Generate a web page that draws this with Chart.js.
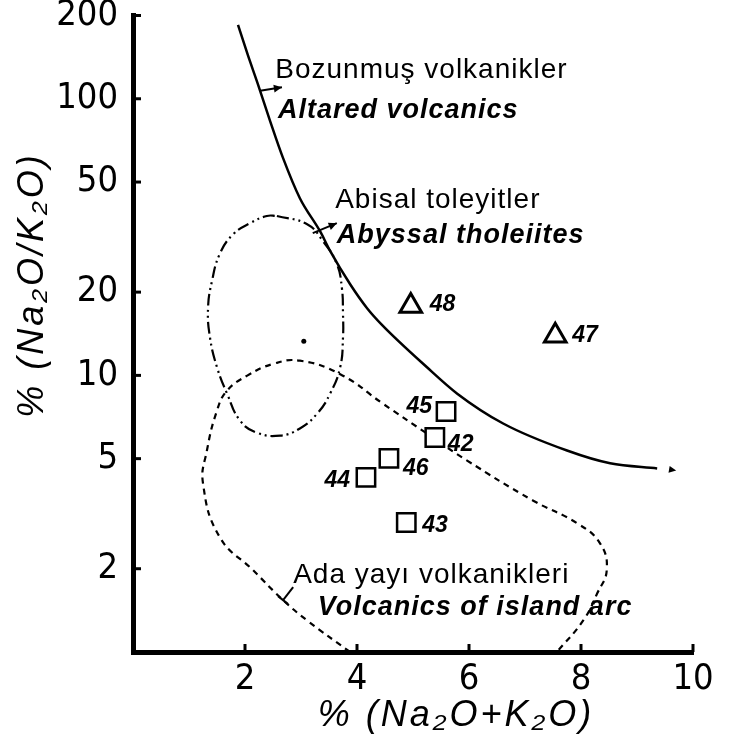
<!DOCTYPE html>
<html><head><meta charset="utf-8">
<script src="https://cdn.jsdelivr.net/npm/chart.js@4.4.1/dist/chart.umd.min.js"></script>
<style>html,body{margin:0;padding:0;background:#fff;}#wrap{width:731px;height:743px;}</style>
</head><body><div id="wrap"><canvas id="c" width="731" height="743"></canvas></div>
<script>
// ---- data ----
const xTicks = [2, 4, 6, 8, 10];
const yTicks = [2, 5, 10, 20, 50, 100, 200];

const squareIds = ['42', '43', '44', '45', '46'];
const squareX   = [5.39, 4.88, 4.16, 5.59, 4.57];
const squareY   = [5.96, 2.94, 4.28, 7.40, 5.01];

const triangleIds = ['47', '48'];
const triangleX   = [7.54, 4.96];
const triangleY   = [13.9, 17.8];

// boundary of altered volcanics (solid line)
const alteredX = [1.875, 2.05, 2.23, 2.45, 2.68, 2.98, 3.34, 3.52, 3.875, 4.18, 4.45, 5.25, 5.79, 6.61, 7.75, 8.52, 9.36];
const alteredY = [185, 144, 113, 82.9, 61.0, 43.7, 33.2, 28.2, 21.4, 17.5, 15.2, 10.7, 8.59, 6.70, 5.35, 4.81, 4.61];

// abyssal tholeiite field (dash-dot closed curve)
const abyssalX = [2.57, 3.11, 3.39, 3.64, 3.73, 3.75, 3.75, 3.70, 3.52, 3.29, 2.98, 2.63, 2.21, 1.91, 1.68, 1.50, 1.375, 1.34, 1.41, 1.55, 1.79, 2.09, 2.39, 2.57];
const abyssalY = [37.7, 35.2, 30.6, 25.3, 20.7, 16.7, 13.7, 10.7, 8.59, 7.28, 6.43, 6.06, 6.21, 6.87, 8.59, 10.7, 13.7, 17.5, 21.9, 27.5, 32.4, 35.5, 37.7, 37.7];

// island arc volcanics field (dashed, open at the x axis)
const arcX = [3.875, 3.11, 2.68, 2.14, 1.55, 1.25, 1.32, 1.50, 1.68, 2.04, 2.50, 2.98, 3.70, 4.46, 5.25, 5.96, 7.14, 7.93, 8.34, 8.46, 8.29, 8.04, 7.57];
const arcY = [1.0, 1.30, 1.54, 1.98, 2.60, 4.07, 5.35, 7.46, 8.81, 9.98, 11.0, 11.3, 10.1, 7.91, 6.16, 4.93, 3.53, 2.92, 2.47, 1.98, 1.63, 1.30, 1.0];

const centreDotX = [3.05];
const centreDotY = [13.3];

// field names: text, x, y (anchor in data units)
const fieldLabels = [
  ['Bozunmuş volkanikler', 2.54, 118.5, 'normal'],
  ['Altared volcanics', 2.59, 85.0, 'italic'],
  ['Abisal toleyitler', 3.61, 40.2, 'normal'],
  ['Abyssal tholeiites', 3.64, 30.1, 'italic'],
  ['Ada yayı volkanikleri', 2.86, 1.77, 'normal'],
  ['Volcanics of island arc', 3.30, 1.36, 'italic']
];
// leader arrows: x0, y0, x1, y1
const arrows = [
  [2.27, 107, 2.66, 110],
  [3.21, 32.7, 3.64, 35.5]
];
const curveEndArrowX = [9.50, 9.70];
const curveEndArrowY = [4.60, 4.53];
const leaderX = [2.86, 2.68];
const leaderY = [1.716, 1.54];

const xTitle = '% (Na₂O+K₂O)';
const yTitle = '% (Na₂O/K₂O)';

// ---- layout of sample labels (pixel offsets from marker) ----
const labelOffsets = {
  '42': [13, 13, 'left'], '43': [16, 10, 'left'], '44': [-16, 10, 'right'],
  '45': [-14, 1, 'right'], '46': [14, 17, 'left'], '47': [17, 6, 'left'], '48': [19, 5, 'left']
};

const zip = (xs, ys) => xs.map((x, i) => ({x, y: ys[i]}));

const plugins = [{
  id: 'extras',
  afterDatasetsDraw(chart) {
    const ctx = chart.ctx, xs = chart.scales.x, ys = chart.scales.y;
    const ca = chart.chartArea;
    const P = (x, y) => [xs.getPixelForValue(x), ys.getPixelForValue(y)];
    ctx.save();
    ctx.strokeStyle = '#000'; ctx.fillStyle = '#000';
    // inward ticks
    ctx.lineWidth = 3;
    yTicks.forEach(v => { const py = ys.getPixelForValue(v); ctx.beginPath(); ctx.moveTo(ca.left, py); ctx.lineTo(ca.left + 8, py); ctx.stroke(); });
    xTicks.forEach(v => { const px = xs.getPixelForValue(v); ctx.beginPath(); ctx.moveTo(px, ca.bottom); ctx.lineTo(px, ca.bottom - 8); ctx.stroke(); });
    // arrows
    const arrowHead = (x0, y0, x1, y1, len) => {
      const a = Math.atan2(y1 - y0, x1 - x0);
      ctx.beginPath();
      ctx.moveTo(x1, y1);
      ctx.lineTo(x1 - len * Math.cos(a - 0.45), y1 - len * Math.sin(a - 0.45));
      ctx.lineTo(x1 - len * Math.cos(a + 0.45), y1 - len * Math.sin(a + 0.45));
      ctx.closePath(); ctx.fill();
    };
    ctx.lineWidth = 2;
    arrows.forEach(a => {
      const [x0, y0] = P(a[0], a[1]), [x1, y1] = P(a[2], a[3]);
      ctx.beginPath(); ctx.moveTo(x0, y0); ctx.lineTo(x1, y1); ctx.stroke();
      arrowHead(x0, y0, x1, y1, 9);
    });
    {
      const [x0, y0] = P(curveEndArrowX[0], curveEndArrowY[0]), [x1, y1] = P(curveEndArrowX[1], curveEndArrowY[1]);
      arrowHead(x0, y0, x1, y1, 8);
    }
    {
      const [x0, y0] = P(leaderX[0], leaderY[0]), [x1, y1] = P(leaderX[1], leaderY[1]);
      ctx.beginPath(); ctx.moveTo(x0, y0); ctx.lineTo(x1, y1); ctx.stroke();
      ctx.beginPath(); ctx.moveTo(x1 - 5, y1 - 4); ctx.lineTo(x1 + 5, y1 + 4); ctx.stroke();
    }
    // field labels
    ctx.textBaseline = 'alphabetic'; ctx.textAlign = 'left';
    fieldLabels.forEach(l => {
      const [px, py] = P(l[1], l[2]);
      if (l[3] === 'italic') { ctx.font = 'italic bold 27px "Liberation Sans"'; ctx.letterSpacing = '1px'; }
      else { ctx.font = '28px "Liberation Sans"'; ctx.letterSpacing = '1px'; }
      ctx.fillText(l[0], px, py);
    });
    ctx.letterSpacing = '0px';
    // sample labels
    ctx.font = 'italic bold 23px "Liberation Sans"';
    const lab = (ids, xsArr, ysArr) => ids.forEach((id, i) => {
      const [px, py] = P(xsArr[i], ysArr[i]);
      const o = labelOffsets[id];
      ctx.textAlign = o[2];
      ctx.fillText(id, px + o[0], py + o[1]);
    });
    lab(squareIds, squareX, squareY);
    lab(triangleIds, triangleX, triangleY);
    // axis titles
    ctx.font = 'italic 36px "Liberation Sans"';
    ctx.letterSpacing = '3px';
    ctx.textAlign = 'center'; ctx.textBaseline = 'middle';
    ctx.fillText(xTitle, 456, 716);
    ctx.translate(33, 285); ctx.rotate(-Math.PI / 2);
    ctx.fillText(yTitle, 0, 0);
    ctx.restore();
  }
}];

new Chart(document.getElementById('c'), {
  type: 'scatter',
  data: {
    datasets: [
      { data: zip(squareX, squareY), pointStyle: 'rect', pointRadius: 13, borderColor: '#000', backgroundColor: '#fff', borderWidth: 2.5, clip: false },
      { data: zip(triangleX, triangleY), pointStyle: 'triangle', pointRadius: 12.5, borderColor: '#000', backgroundColor: '#fff', borderWidth: 3, clip: false },
      { data: zip(centreDotX, centreDotY), pointRadius: 2.5, backgroundColor: '#000', borderWidth: 0 },
      { data: zip(alteredX, alteredY), showLine: true, pointRadius: 0, borderColor: '#000', borderWidth: 2.5, cubicInterpolationMode: 'monotone', clip: false },
      { data: zip(abyssalX, abyssalY), showLine: true, pointRadius: 0, borderColor: '#000', borderWidth: 2.2, borderDash: [12, 4, 2, 4, 2, 4], tension: 0.45, clip: false },
      { data: zip(arcX, arcY), showLine: true, pointRadius: 0, borderColor: '#000', borderWidth: 2.2, borderDash: [6, 5], tension: 0.45, clip: false }
    ]
  },
  options: {
    responsive: false, animation: false, devicePixelRatio: 1,
    layout: { padding: { top: 14, right: 38, left: 0, bottom: 0 } },
    plugins: { legend: { display: false }, tooltip: { enabled: false } },
    scales: {
      x: {
        type: 'linear', min: 0, max: 10,
        afterBuildTicks: s => { s.ticks = xTicks.map(v => ({value: v})); },
        afterFit: s => { s.height = 91; s.paddingLeft = 0; s.paddingRight = 0; },
        grid: { display: true, drawOnChartArea: false, drawTicks: false },
        border: { color: '#000', width: 5 },
        ticks: { color: '#000', padding: 6, font: { family: '"DejaVu Sans Condensed", "DejaVu Sans"', size: 36 }, maxRotation: 0 }
      },
      y: {
        type: 'logarithmic', min: 1, max: 200,
        afterBuildTicks: s => { s.ticks = yTicks.map(v => ({value: v})); },
        afterFit: s => { s.width = 133; s.paddingTop = 0; s.paddingBottom = 0; },
        grid: { display: true, drawOnChartArea: false, drawTicks: false },
        border: { color: '#000', width: 5 },
        ticks: { color: '#000', padding: 15, font: { family: '"DejaVu Sans Condensed", "DejaVu Sans"', size: 36 }, callback: v => String(v) }
      }
    }
  },
  plugins
});
</script>
</body></html>
